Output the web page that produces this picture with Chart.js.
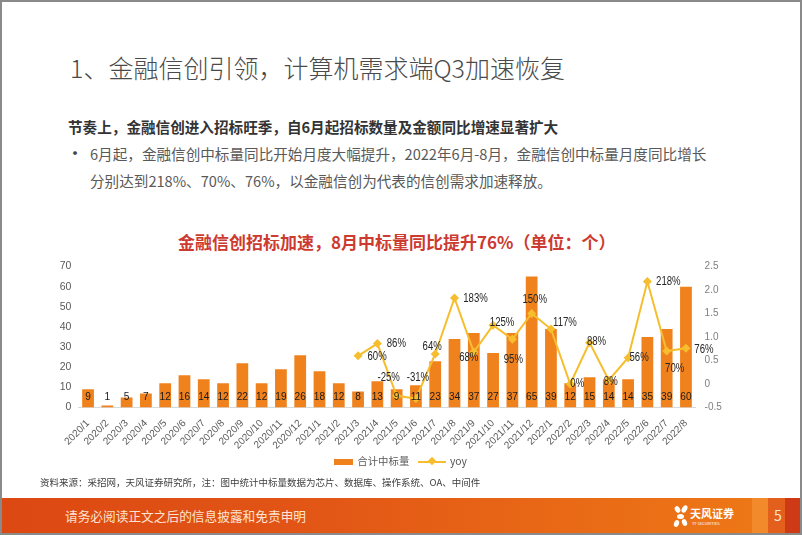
<!DOCTYPE html>
<html lang="zh">
<head>
<meta charset="utf-8">
<script src="https://cdn.jsdelivr.net/npm/chart.js@4.4.0/dist/chart.umd.min.js"></script>
<style>
  html, body { margin: 0; padding: 0; background: #fff; }
  body {
    width: 802px; height: 535px; position: relative; overflow: hidden;
    font-family: "Noto Sans CJK SC", "Noto Sans", sans-serif;
  }
  .abs { position: absolute; white-space: nowrap; }
  #title { left: 70px; top: 51px; font-size: 25px; line-height: 32px; color: #4a4a4a; font-weight: 300; }
  #lead { left: 68px; top: 116px; font-size: 14.6px; line-height: 22px; color: #333; font-weight: 700; }
  #dot { left: 66px; top: 139px; font-size: 18px; line-height: 27px; color: #444; }
  #bullet { left: 90px; top: 140px; font-size: 14.6px; line-height: 27px; color: #595959; }
  #chartTitle { left: 178px; top: 229px; font-size: 17px; line-height: 26px; color: #cc3a30; font-weight: 700; }
  #chartBox { position: absolute; left: 0; top: 250px; width: 802px; height: 210px; }
  #legend { left: 334px; top: 453px; font-size: 10.4px; line-height: 16px; color: #595959; }
  #legend .sw { display: inline-block; vertical-align: middle; }
  #source { left: 40px; top: 474px; font-size: 9.5px; line-height: 16px; color: #404040; }
  #footer {
    position: absolute; left: 0; top: 498px; width: 802px; height: 35px;
    background: linear-gradient(90deg, #dc4812 0%, #e25616 40%, #ea6c16 75%, #ee7a16 100%);
  }
  #footText { left: 65px; top: 507px; font-size: 12.7px; line-height: 18px; color: #fde3d2; }
  #pageNo { left: 774px; top: 505px; font-size: 14px; line-height: 20px; color: #fde3d2; }
  #frame { position: absolute; left: 0; top: 0; width: 798px; height: 531px; border: 2px solid #8a8a8a; pointer-events: none; }
</style>
</head>
<body>
<div id="title" class="abs">1、金融信创引领，计算机需求端Q3加速恢复</div>
<div id="lead" class="abs">节奏上，金融信创进入招标旺季，自6月起招标数量及金额同比增速显著扩大</div>
<div id="dot" class="abs">•</div>
<div id="bullet" class="abs">6月起，金融信创中标量同比开始月度大幅提升，2022年6月-8月，金融信创中标量月度同比增长<br>分别达到218%、70%、76%，以金融信创为代表的信创需求加速释放。</div>
<div id="chartTitle" class="abs">金融信创招标加速，8月中标量同比提升76%（单位：个）</div>
<div id="chartBox"><canvas id="mainChart"></canvas></div>
<div id="legend" class="abs">
  <span class="sw" style="width:19px;height:6px;background:#f0821e;"></span>
  <span style="margin-left:2px;">合计中标量</span>
  <span class="sw" style="width:28px;height:2px;background:#f6be2e;margin-left:6px;position:relative;">
    <span style="position:absolute;left:11px;top:-3px;width:6px;height:6px;background:#f6be2e;transform:rotate(45deg);"></span>
  </span>
  <span style="margin-left:2px;">yoy</span>
</div>
<div id="source" class="abs">资料来源：采招网，天风证券研究所，注：图中统计中标量数据为芯片、数据库、操作系统、OA、中间件</div>

<div id="footer">
  <div style="position:absolute;left:752px;top:0;width:16px;height:35px;background:#f28a2c;"></div>
  <div style="position:absolute;left:768px;top:0;width:17px;height:35px;background:#e2601c;"></div>
  <div style="position:absolute;left:785px;top:0;width:17px;height:35px;background:#cf3a16;"></div>
  <!-- logo -->
  <div style="position:absolute;left:675px;top:8px;width:5px;height:7px;background:#fff;border-radius:50%;transform:rotate(-30deg);"></div>
  <div style="position:absolute;left:682px;top:7px;width:5px;height:8px;background:#fff;border-radius:50%;transform:rotate(30deg);"></div>
  <div style="position:absolute;left:677px;top:16px;width:7px;height:5px;background:#fff;border-radius:50%;"></div>
  <div style="position:absolute;left:674px;top:22px;width:5px;height:7px;background:#fff;border-radius:50%;transform:rotate(20deg);"></div>
  <div style="position:absolute;left:682px;top:21px;width:5px;height:7px;background:#fff;border-radius:50%;transform:rotate(-20deg);"></div>
  <div style="position:absolute;left:690px;top:8px;font-size:11px;line-height:14px;color:#fff;font-weight:700;white-space:nowrap;">天风证券</div>
  <div style="position:absolute;left:692px;top:23px;font-size:4px;line-height:5px;color:#fff;white-space:nowrap;">TF SECURITIES</div>
</div>
<div id="footText" class="abs">请务必阅读正文之后的信息披露和免责申明</div>
<div id="pageNo" class="abs">5</div>
<div id="frame"></div>

<script>
// months on the x axis
const months = [
  '2020/1', '2020/2', '2020/3', '2020/4', '2020/5', '2020/6', '2020/7', '2020/8',
  '2020/9', '2020/10', '2020/11', '2020/12', '2021/1', '2021/2', '2021/3', '2021/4',
  '2021/5', '2021/6', '2021/7', '2021/8', '2021/9', '2021/10', '2021/11', '2021/12',
  '2022/1', '2022/2', '2022/3', '2022/4', '2022/5', '2022/6', '2022/7', '2022/8'
];

// 合计中标量 (count)
const bidCount = [
  9, 1, 5, 7, 12, 16, 14, 12,
  22, 12, 19, 26, 18, 12, 8, 13,
  9, 11, 23, 34, 37, 27, 37, 65,
  39, 12, 15, 14, 14, 35, 39, 60
];

// yoy (ratio), starts at 2021/3
const yoy = [
  null, null, null, null, null, null, null, null,
  null, null, null, null, null, null, 0.60, 0.86,
  -0.25, -0.31, 0.64, 1.83, 0.68, 1.25, 0.95, 1.50,
  1.17, 0.00, 0.88, 0.08, 0.56, 2.18, 0.70, 0.76
];

// where each yoy label sits relative to its point [dx, dy]
const yoyLabelOffset = [
  null, null, null, null, null, null, null, null,
  null, null, null, null, null, null, [19, 1], [19, 0],
  [-8, -18], [2, -21], [-3, -7], [21, 1], [-5, 6], [9, -3], [1, 20], [3, -14],
  [14, -6], [7, 0], [7, -1], [2, 1], [11, 0], [21, 0], [8, 18], [18, 1]
];

const BAR_COLOR = '#f0821e';
const LINE_COLOR = '#f6be2e';
const NUM_FONT = '"Liberation Sans", sans-serif';

// draw text squeezed horizontally (the source uses a narrow face)
function narrowText(ctx, text, x, y, squeeze) {
  ctx.save();
  ctx.translate(x, y);
  ctx.scale(squeeze, 1);
  ctx.fillText(text, 0, 0);
  ctx.restore();
}

const valueLabels = {
  id: 'valueLabels',
  afterDatasetsDraw(chart) {
    const ctx = chart.ctx;
    const zeroY = chart.scales.y.getPixelForValue(0);
    ctx.save();
    ctx.textAlign = 'center';
    ctx.textBaseline = 'middle';

    // bar counts sit just above the baseline
    ctx.font = '11.5px ' + NUM_FONT;
    ctx.fillStyle = '#1a1a1a';
    chart.getDatasetMeta(0).data.forEach((bar, i) => {
      narrowText(ctx, String(bidCount[i]), bar.x, zeroY - 11, 0.88);
    });

    // yoy percentages
    ctx.font = '12px ' + NUM_FONT;
    ctx.fillStyle = '#262626';
    chart.getDatasetMeta(1).data.forEach((pt, i) => {
      if (yoy[i] === null) return;
      const off = yoyLabelOffset[i] || [14, 0];
      narrowText(ctx, Math.round(yoy[i] * 100) + '%', pt.x + off[0], pt.y + off[1], 0.8);
    });
    ctx.restore();
  }
};

const ctx = document.getElementById('mainChart').getContext('2d');
new Chart(ctx, {
  data: {
    labels: months,
    datasets: [
      {
        type: 'bar',
        label: '合计中标量',
        data: bidCount,
        backgroundColor: BAR_COLOR,
        yAxisID: 'y',
        barPercentage: 0.61,
        categoryPercentage: 1.0,
        order: 2
      },
      {
        type: 'line',
        label: 'yoy',
        data: yoy,
        borderColor: LINE_COLOR,
        backgroundColor: LINE_COLOR,
        borderWidth: 2,
        pointStyle: 'rectRot',
        pointRadius: 4.5,
        pointBorderWidth: 0,
        pointBackgroundColor: LINE_COLOR,
        tension: 0,
        spanGaps: false,
        yAxisID: 'y1',
        order: 1
      }
    ]
  },
  options: {
    responsive: true,
    maintainAspectRatio: false,
    animation: false,
    layout: { padding: { top: 16.5, right: 66.4, bottom: 0, left: 0 } },
    scales: {
      x: {
        grid: { display: false },
        border: { display: true, color: '#d9d9d9' },
        ticks: {
          color: '#595959',
          font: { family: '"Liberation Sans", sans-serif', size: 10 },
          minRotation: 45,
          maxRotation: 45,
          autoSkip: false,
          padding: 2
        },
        afterFit: (scale) => { scale.height = 52.5; }
      },
      y: {
        position: 'left',
        min: 0,
        max: 70,
        grid: { display: false, drawTicks: false },
        border: { display: false },
        ticks: {
          stepSize: 10,
          color: '#595959',
          font: { family: '"Liberation Sans", sans-serif', size: 10.5 },
          padding: 7
        },
        afterFit: (scale) => { scale.width = 78.4; }
      },
      y1: {
        position: 'right',
        min: -0.5,
        max: 2.5,
        grid: { display: false, drawTicks: false },
        border: { display: false },
        ticks: {
          stepSize: 0.5,
          color: '#7f7f7f',
          font: { family: '"Liberation Sans", sans-serif', size: 10 },
          padding: 9
        },
        afterFit: (scale) => { scale.width = 40; }
      }
    },
    plugins: {
      legend: { display: false },
      tooltip: { enabled: false }
    }
  },
  plugins: [valueLabels]
});
</script>
</body>
</html>
